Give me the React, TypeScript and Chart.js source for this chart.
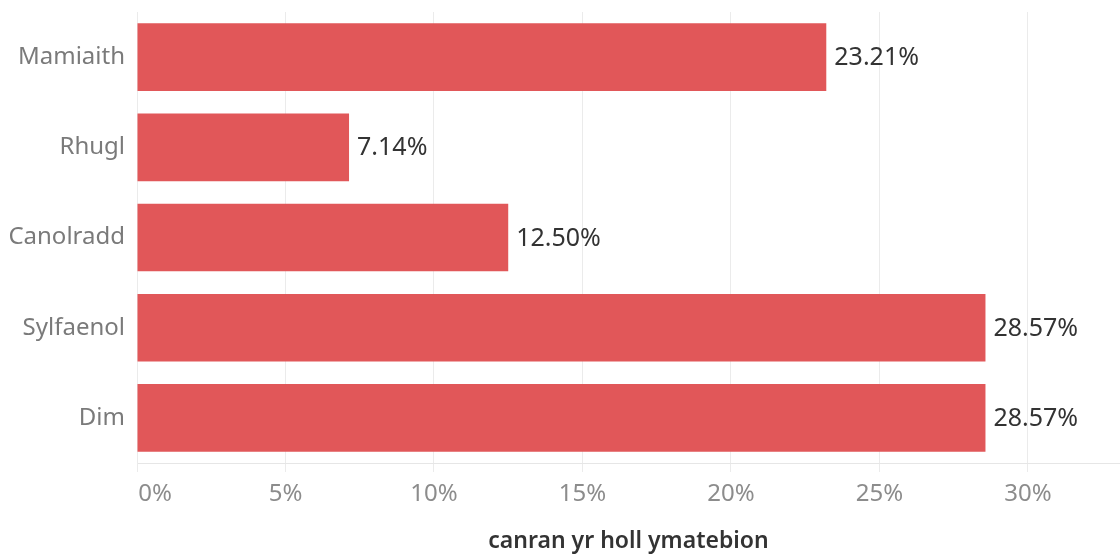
import React, { useEffect, useRef } from "react";
import { Chart, registerables } from "chart.js";

Chart.register(...registerables);

const categories = ["Mamiaith", "Rhugl", "Canolradd", "Sylfaenol", "Dim"];
const values = [23.21, 7.14, 12.5, 28.57, 28.57];
const tickValues = [0, 5, 10, 15, 20, 25, 30];
const axisTitle = "canran yr holl ymatebion";

const FONT = "'Noto Sans', sans-serif";

const valueLabels = {
  id: "valueLabels",
  afterDatasetsDraw(chart: any) {
    const ctx = chart.ctx;
    const meta = chart.getDatasetMeta(0);
    ctx.save();
    ctx.font = `25px ${FONT}`;
    ctx.fillStyle = "#333333";
    ctx.textAlign = "left";
    ctx.textBaseline = "middle";
    meta.data.forEach((bar: any, i: number) => {
      ctx.fillText(values[i].toFixed(2) + "%", bar.x + 8, bar.y + 1);
    });
    ctx.restore();
  },
};

export default function App() {
  const ref = useRef<HTMLCanvasElement>(null);
  useEffect(() => {
    document.body.style.margin = "0";
    const chart = new Chart(ref.current!, {
      type: "bar",
      data: {
        labels: categories,
        datasets: [
          {
            data: values,
            backgroundColor: "#E15759",
            borderWidth: 0,
            barPercentage: 0.75,
            categoryPercentage: 1,
          },
        ],
      },
      plugins: [valueLabels],
      options: {
        indexAxis: "y",
        animation: false,
        responsive: false,
        layout: { padding: { top: 12, right: 0, left: 0, bottom: 0 } },
        plugins: { legend: { display: false }, tooltip: { enabled: false } },
        scales: {
          x: {
            min: 0,
            max: 33.1,
            afterBuildTicks(scale: any) {
              scale.ticks = tickValues.map((v) => ({ value: v }));
            },
            afterFit(scale: any) {
              scale.height = 93;
              scale.paddingLeft = 0;
              scale.paddingRight = 0;
            },
            ticks: {
              font: { family: FONT, size: 24 },
              color: "#8c8c8c",
              padding: 8,
              maxRotation: 0,
              callback: (v: any) => (v === 0 ? "\u2003\u2002" + v + "%" : v + "%"),
            },
            grid: {
              color: "#ebebeb",
              lineWidth: 1,
              drawTicks: true,
              tickLength: 9,
            },
            border: { display: true, color: "#e6e6e6" },
            title: {
              display: true,
              text: axisTitle,
              font: { family: FONT, size: 23, weight: "600" },
              color: "#333333",
              padding: { top: 0, bottom: 1 },
            },
          },
          y: {
            afterFit(scale: any) {
              scale.width = 137;
              scale.paddingTop = 0;
              scale.paddingBottom = 0;
            },
            ticks: {
              font: { family: FONT, size: 24 },
              color: "#7a7a7a",
              padding: 12,
            },
            grid: { display: false, drawTicks: false },
            border: { display: true, color: "#ebebeb" },
          },
        },
      },
    });
    return () => chart.destroy();
  }, []);
  return <canvas ref={ref} width={1120} height={556} style={{ display: "block" }} />;
}
